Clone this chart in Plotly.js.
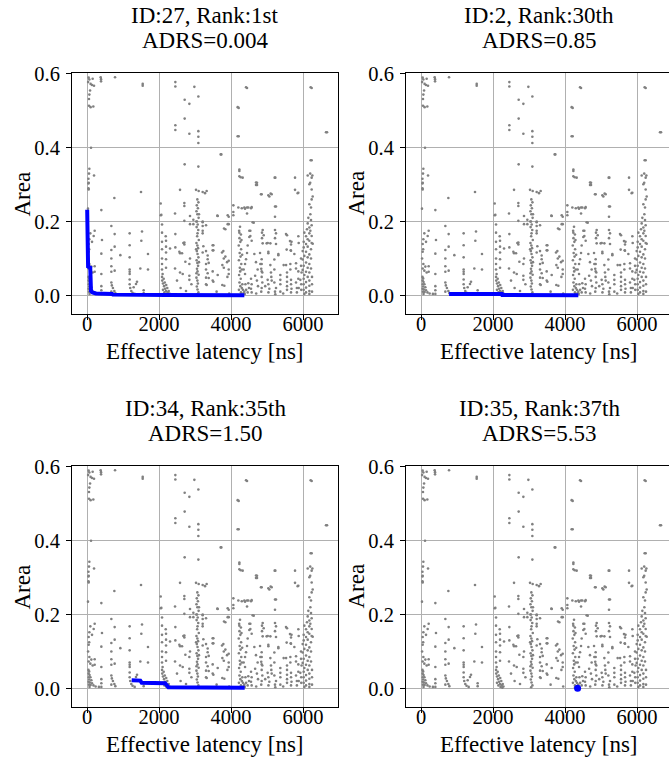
<!DOCTYPE html>
<html>
<head>
<meta charset="utf-8">
<script src="https://cdn.plot.ly/plotly-3.0.1.min.js"></script>
<style>
html,body{margin:0;padding:0;overflow:hidden;background:#fff;}
#chart{width:675px;height:769px;}
</style>
</head>
<body>
<div id="chart"></div>
<script>
// ---- Data ----
// Background design-space points (same in every panel): latency [ns], area
const grayX = [
 65,100,140,195,85,65,55,100,175,157,45,30,55,380,390,390,778,1547,1547,
 111,65,55,195,40,40,40,46,46,760,1500,27,398,
 213,92,185,65,139,46,416,676,768,1185,1528,1509,768,676,926,398,676,1185,1185,1694,46,60,30,
 65,120,46,92,157,213,213,398,676,768,676,1481,1694,1185,1185,1185,1185,1389,1361,1296,40,60,45,70,50,95,60,120,45,80,140,55,100,180,70,240,330,676,690,720,760,787,676,398,398,398,1185,1200,1230,1265,1324,1574,1574,
 2047,2047,2065,2084,2084,2084,2084,2084,2084,2084,2084,2195,2195,2195,2195,2195,2186,2306,2090,2110,2140,2170,2195,2240,2290,2110,2150,2210,2260,2100,2130,2160,2200,2230,2270,
 2454,2454,2982,2713,2843,2713,2454,2454,2843,2584,2713,2704,2704,2445,2861,2861,2704,2954,2954,2454,2676,2454,2584,2640,2704,2704,2732,2843,2861,2584,2658,2843,2843,2445,2565,2600,2750,2900,2500,
 3093,3093,3093,3093,3093,3028,3102,3065,3095,3050,3080,3040,3065,3100,3055,3075,3045,3090,3070,3060,3105,3040,3065,3085,3050,3070,3095,3045,3065,3085,3055,3070,3100,3040,3065,3080,3050,3070,3095,3060,3110,3035,3030,3110,3040,
 3213,3324,3278,3213,3213,3213,3213,3306,3352,3352,3380,3213,3231,3213,3510,3510,3491,3491,3352,3380,3510,3324,3491,3491,3306,3306,3306,3306,3306,3630,3936,3936,3843,3806,3908,3620,3908,3713,3732,3750,3843,3936,3760,3800,3936,3936,3630,3787,3800,3890,3900,3815,3759,3600,3950,
 4213,4213,4232,4232,4232,4269,4185,4185,4065,4065,4065,4204,4300,4390,4480,4556,4250,4225,4275,4235,4260,4215,4280,4240,4265,4220,4285,4245,4255,4225,4270,4235,4260,4220,4275,4280,4232,4290,4310,4300,4315,4330,4350,4370,4300,
 4445,4417,4324,4370,4445,4574,4445,4630,4602,4537,4537,4574,4509,4509,4463,4445,4417,4390,4352,4390,4648,4694,4740,4670,4556,4574,4556,4574,4480,4500,4463,4400,4420,4380,
 4722,4722,4695,4695,4852,5065,5130,5037,5102,5222,5250,5222,5232,5213,4833,4880,4908,4861,4861,5222,5250,5222,4880,4990,5093,5019,5250,5037,5037,4806,4852,4852,4852,4815,4840,4870,5093,5110,5120,5130,5204,5204,5315,5315,4852,4870,4852,4840,5018,5037,5065,5040,5204,5250,5222,5230,4950,4720,4750,4700,
 5778,5778,5852,5870,5528,5556,5639,5658,5546,5667,5760,5667,5680,5870,5880,5463,5530,5648,5648,5806,5806,5945,5945,5960,5556,5556,5556,5556,5556,5370,5370,5370,5667,5667,5680,5667,5806,5830,5830,5926,5950,5950,5370,5450,5870,5870,5880,
 6213,6241,6639,6667,6213,6241,6200,6260,6130,6240,6200,6176,6241,6269,6241,6176,6222,6204,6148,6222,6130,6241,6176,6111,6204,6037,6176,6241,6084,6130,6019,6176,6241,6084,6019,6130,6222,5991,6084,6176,6037,6130,5991,6222,6084,6176,6019,6130,6222,5991,6084,6176,6037,6130,6019,6176,6084,6019,6176,6084,6019,6176,6084,6037,6176,6250,6250,6250,6270
];
const grayY = [
 .585,.573,.57,.568,.555,.544,.514,.51,.512,.587,.59,.578,.532,.591,.586,.58,.591,.573,.568,
 .40,.343,.33,.325,.316,.303,.29,.305,.287,.264,.28,.235,.231,
 .175,.168,.161,.152,.145,.139,.15,.188,.166,.168,.173,.148,.132,.123,.109,.113,.1,.136,.103,.112,.118,.125,.1,
 .085,.078,.073,.067,.062,.064,.079,.058,.064,.067,.079,.073,.07,.07,.064,.058,.043,.037,.031,.022,.05,.046,.04,.036,.03,.03,.024,.022,.018,.016,.014,.01,.009,.008,.004,.005,.004,.035,.027,.02,.012,.006,.01,.025,.014,.004,.03,.02,.012,.007,.004,.014,.006,
 .249,.217,.218,.192,.17,.145,.125,.1,.085,.07,.05,.148,.132,.116,.098,.075,.16,.127,.04,.032,.025,.018,.012,.008,.005,.015,.008,.004,.002,.058,.045,.035,.028,.02,.012,
 .578,.566,.565,.53,.519,.479,.461,.448,.438,.286,.355,.25,.242,.222,.215,.193,.202,.205,.193,.166,.142,.13,.114,.114,.143,.138,.091,.085,.1,.062,.058,.053,.042,.073,.118,.02,.012,.03,.04,
 .539,.445,.43,.413,.349,.286,.283,.26,.252,.244,.236,.228,.22,.21,.2,.192,.185,.177,.168,.16,.15,.142,.135,.128,.12,.112,.103,.095,.088,.08,.072,.065,.056,.048,.04,.032,.024,.016,.008,.003,.22,.2,.125,.09,.06,
 .28,.283,.277,.198,.188,.175,.2,.19,.108,.098,.088,.168,.133,.116,.136,.122,.136,.122,.06,.047,.037,.028,.065,.04,.12,.085,.07,.048,.03,.215,.213,.193,.179,.181,.193,.216,.217,.382,.382,.116,.105,.094,.082,.075,.07,.058,.055,.12,.1,.09,.05,.026,.028,.01,.005,
 .508,.431,.341,.337,.323,.32,.51,.431,.244,.226,.217,.238,.236,.235,.238,.236,.186,.175,.165,.155,.145,.135,.125,.115,.105,.095,.085,.075,.065,.055,.045,.035,.025,.015,.008,.003,.17,.15,.11,.07,.03,.015,.006,.01,.02,
 .562,.564,.319,.238,.238,.239,.222,.197,.198,.175,.161,.148,.175,.158,.135,.115,.098,.085,.07,.058,.112,.09,.07,.053,.045,.03,.018,.008,.033,.02,.008,.03,.015,.004,
 .305,.299,.306,.299,.274,.268,.274,.271,.276,.241,.241,.213,.319,.319,.274,.177,.163,.17,.155,.177,.168,.155,.141,.141,.141,.142,.139,.114,.118,.115,.098,.085,.065,.085,.072,.062,.082,.062,.05,.04,.097,.07,.109,.112,.05,.035,.02,.01,.042,.03,.018,.008,.035,.02,.01,.003,.025,.04,.025,.005,
 .319,.286,.277,.278,.166,.163,.147,.122,.124,.121,.112,.138,.145,.16,.142,.082,.082,.085,.07,.087,.073,.1,.08,.062,.062,.05,.037,.025,.015,.055,.042,.03,.042,.03,.018,.008,.035,.02,.008,.042,.03,.015,.01,.005,.065,.045,.02,
 .564,.562,.442,.442,.366,.366,.33,.325,.325,.319,.305,.301,.287,.268,.26,.247,.238,.22,.21,.204,.195,.19,.184,.179,.175,.17,.168,.161,.16,.152,.145,.148,.142,.139,.13,.132,.125,.12,.118,.111,.107,.103,.097,.1,.089,.085,.08,.075,.073,.069,.064,.062,.055,.05,.045,.04,.036,.03,.026,.021,.015,.012,.008,.004,.004,.05,.03,.01,.14
];

// Highlighted Pareto fronts of the four ranked designs
const front27X = [5, 5, 15, 30, 90, 95, 110, 150, 250, 700, 720, 2200, 4370];
const front27Y = [0.232, 0.12, 0.085, 0.078, 0.075, 0.02, 0.012, 0.008, 0.005, 0.004, 0.002, 0.001, 0.0];
const front2X = [780, 2250, 2260, 4370];
const front2Y = [0.004, 0.004, 0.001, 0.0];
const front34X = [1240, 1480, 1520, 2170, 2260, 4380];
const front34Y = [0.022, 0.021, 0.015, 0.014, 0.003, 0.002];
const front35X = [4350];
const front35Y = [0.0];

const titles1 = ["ID:27, Rank:1st", "ID:2, Rank:30th", "ID:34, Rank:35th", "ID:35, Rank:37th"];
const titles2 = ["ADRS=0.004", "ADRS=0.85", "ADRS=1.50", "ADRS=5.53"];
const xTicks = [0, 2000, 4000, 6000];
const yTicks = [0.0, 0.2, 0.4, 0.6];
const xLabel = "Effective latency [ns]";
const yLabel = "Area";

// ---- Layout geometry ----
const W = 675, H = 769;
const FONT = "Liberation Serif, Times New Roman, serif";
const TXT = 23;
const panels = [
  {l: 72, r: 338, t: 73, b: 314},
  {l: 406, r: 672, t: 73, b: 314},
  {l: 72, r: 338, t: 466, b: 707},
  {l: 406, r: 672, t: 466, b: 707}
];
const fronts = [[front27X, front27Y], [front2X, front2Y], [front34X, front34Y], [front35X, front35Y]];

const traces = [];
const layout = {
  width: W, height: H,
  margin: {l: 0, r: 0, t: 0, b: 0},
  paper_bgcolor: 'white', plot_bgcolor: 'white',
  showlegend: false,
  font: {family: FONT, size: 20, color: 'black'},
  annotations: []
};

panels.forEach((p, i) => {
  const n = i === 0 ? '' : String(i + 1);
  const xa = 'x' + n, ya = 'y' + n;
  traces.push({
    type: 'scatter', mode: 'markers', x: grayX, y: grayY, xaxis: xa, yaxis: ya,
    marker: {color: 'rgb(128,128,128)', size: 2.6, line: {width: 0}},
    hoverinfo: 'skip'
  });
  const f = fronts[i];
  if (f[0].length > 1) {
    traces.push({type: 'scatter', mode: 'lines', x: f[0], y: f[1], xaxis: xa, yaxis: ya,
      line: {color: '#0000ff', width: 4}});
  } else {
    traces.push({type: 'scatter', mode: 'markers', x: f[0], y: f[1], xaxis: xa, yaxis: ya,
      marker: {color: '#0000ff', size: 7}});
  }
  const common = {
    showgrid: true, gridcolor: '#b0b0b0', gridwidth: 1, zeroline: false,
    showline: true, mirror: true, linecolor: 'black', linewidth: 1,
    ticks: 'outside', ticklen: 5, tickcolor: 'black', tickwidth: 1,
    tickfont: {family: FONT, size: 20.5, color: 'black'}, fixedrange: true
  };
  layout['xaxis' + n] = Object.assign({}, common, {
    domain: [p.l / W, p.r / W], anchor: ya,
    range: [-417, 6972], tickvals: xTicks, tickformat: 'd', ticklabelstandoff: -14
  });
  layout['yaxis' + n] = Object.assign({}, common, {
    domain: [1 - p.b / H, 1 - p.t / H], anchor: xa,
    range: [-0.0505, 0.6026], tickvals: yTicks, tickformat: '.1f', ticklabelstandoff: 2
  });
  const cx = (p.l + p.r) / 2 / W;
  layout.annotations.push(
    {text: titles1[i], xref: 'paper', yref: 'paper', x: cx, y: 1 - (p.t - 58) / H, showarrow: false,
     xanchor: 'center', yanchor: 'middle', font: {family: FONT, size: TXT, color: 'black'}},
    {text: titles2[i], xref: 'paper', yref: 'paper', x: cx, y: 1 - (p.t - 33) / H, showarrow: false,
     xanchor: 'center', yanchor: 'middle', font: {family: FONT, size: TXT, color: 'black'}},
    {text: xLabel, xref: 'paper', yref: 'paper', x: cx, y: 1 - (p.b + 37) / H, showarrow: false,
     xanchor: 'center', yanchor: 'middle', font: {family: FONT, size: TXT, color: 'black'}},
    {text: yLabel, xref: 'paper', yref: 'paper', x: (p.l - 50) / W, y: 1 - (p.t + p.b) / 2 / H, showarrow: false,
     textangle: -90, xanchor: 'center', yanchor: 'middle', font: {family: FONT, size: TXT, color: 'black'}}
  );
});

Plotly.newPlot('chart', traces, layout, {staticPlot: true, displayModeBar: false});
</script>
</body>
</html>
